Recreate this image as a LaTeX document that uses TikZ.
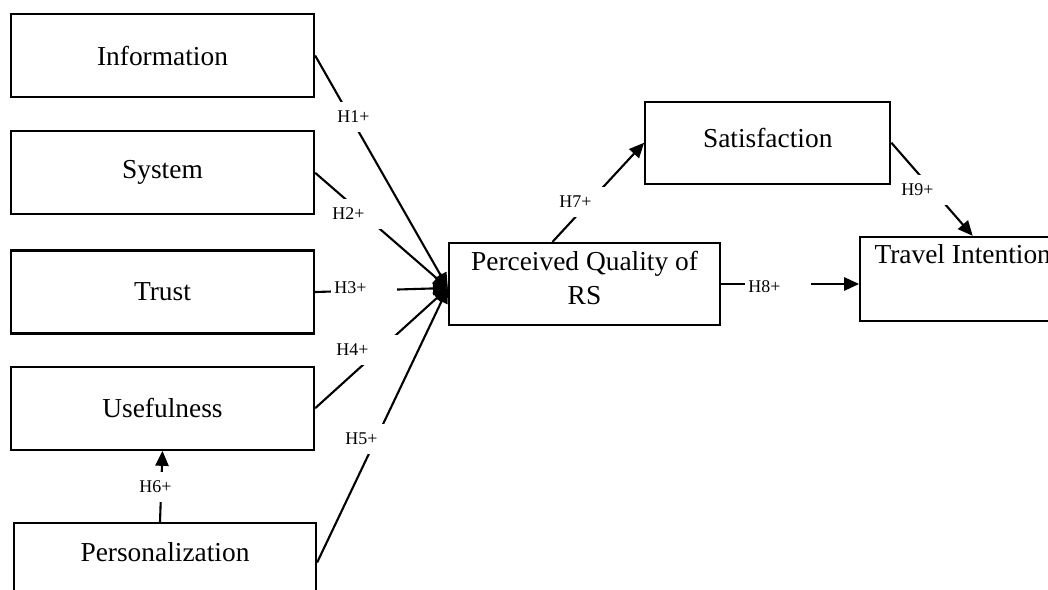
\documentclass[tikz,border=0pt]{standalone}
\usepackage{fontspec}
\setmainfont{Liberation Serif}
\usepackage{tikz}
\usetikzlibrary{arrows.meta, positioning, calc}
\tikzset{
    varbox/.style={
        rectangle, draw=black, fill=white, line width=1.3pt,
        minimum width=6.06cm, minimum height=1.66cm, inner ysep=0pt,
        font=\fontsize{15.6}{19.9}\selectfont, align=center
    },
    hyparrow/.style={
        -{Triangle[length=8.5pt, width=7.5pt]}, line width=1.2pt, draw=black
    },
    hyplab/.style={
        rectangle, fill=white, anchor=west, text width=1.2cm, inner xsep=0.06cm,
        minimum height=0.6cm, align=left, font=\fontsize{10.2}{12}\selectfont
    },
}

\begin{document}
\begin{tikzpicture}[x=0.02cm, y=-0.02cm]
    \useasboundingbox (0,0) rectangle (1048,590);

    % Constructs
    \node[varbox] (info) at (162.5,55.5) {Information};
    \node[varbox, below=0.64cm of info] (sys) {System};
    \node[varbox, below=0.68cm of sys] (trust) {Trust};
    \node[varbox, below=0.62cm of trust] (use) {Usefulness};
    \node[varbox, below=1.42cm of use, xshift=0.05cm, minimum width=6.04cm, minimum height=0pt, text height=0.76cm, text depth=0.82cm] (pers) {Personalization};
    \node[varbox, minimum width=5.42cm, minimum height=0pt, text height=1.24cm, text depth=0.4cm] (pq) at (584.5,284) {Perceived Quality of\\RS};
    \node[varbox, minimum width=4.9cm, minimum height=0pt, text height=0.92cm, text depth=0.72cm, above right=1.14cm and -1.54cm of pq] (sat) {Satisfaction};
    \node[varbox, minimum width=4.1cm, minimum height=0pt, text height=0.54cm, text depth=1.14cm, right=2.76cm of pq, yshift=0.1cm] (ti) {Travel Intention};

    \coordinate (hub) at ($(pq.west)+(0,4)$);

    % Hypotheses
    \draw[hyparrow] (info.east) -- (hub);
    \draw[hyparrow] (sys.east) -- (hub);
    \draw[hyparrow] (trust.east) -- (hub);
    \draw[hyparrow] (use.east) -- (hub);
    \draw[hyparrow] (pers.east) -- (hub);
    \draw[hyparrow] ($(pers.north)+(-5,0)$) -- (use.south);
    \draw[hyparrow] ($(pq.north)+(-32,0)$) -- (sat.west);
    \draw[hyparrow] (pq.east) -- (pq.east -| ti.west);
    \draw[hyparrow] (sat.east) -- ($(ti.north)+(10,0)$);

    % Labels
    \node[hyplab] (h1) at (334,117) {H1+};
    \node[hyplab] (h2) at (329,214) {H2+};
    \node[hyplab] (h3) at (331,288) {H3+};
    \node[hyplab] (h4) at (333,350) {H4+};
    \node[hyplab] (h5) at (342,439) {H5+};
    \node[hyplab] (h6) at (136,487) {H6+};
    \node[hyplab] (h7) at (556,202) {H7+};
    \node[hyplab] (h8) at (745,287) {H8+};
    \node[hyplab] (h9) at (898,190) {H9+};

\end{tikzpicture}
\end{document}
